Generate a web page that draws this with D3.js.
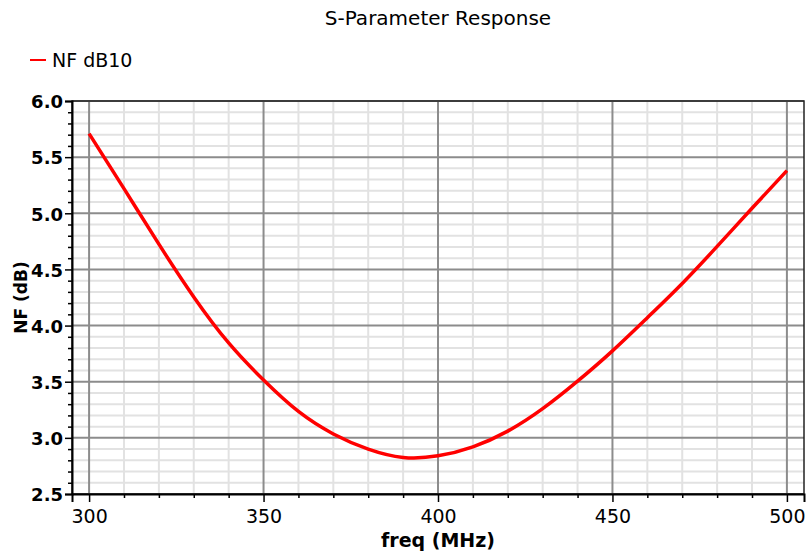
<!DOCTYPE html>
<html>
<head>
<meta charset="utf-8">
<script src="https://cdn.jsdelivr.net/npm/d3@7"></script>
<style>
  body { margin: 0; background: #fff; }
  svg text { font-family: "DejaVu Sans", sans-serif; fill: #000; }
</style>
</head>
<body>
<div id="chart"></div>
<script>
// NF dB10 values, every 10 MHz
const freqs = [300, 310, 320, 330, 340, 350, 360, 370, 380, 390, 400, 410, 420, 430, 440, 450, 460, 470, 480, 490, 500];
const nf = [5.71, 5.22, 4.725, 4.255, 3.845, 3.515, 3.235, 3.035, 2.9, 2.826, 2.84,
  2.92, 3.06, 3.26, 3.505, 3.775, 4.07, 4.375, 4.705, 5.045, 5.38];
const xTicks = [300, 350, 400, 450, 500];
const yTicks = [2.5, 3.0, 3.5, 4.0, 4.5, 5.0, 5.5, 6.0];
const title = "S-Parameter Response";
const seriesName = "NF dB10";

const W = 808, H = 552;
const margin = { top: 101, right: 4, bottom: 58, left: 72 };
const width = W - margin.left - margin.right;
const height = H - margin.top - margin.bottom;

const svg = d3.select("#chart").append("svg")
  .attr("width", W)
  .attr("height", H);

const x = d3.scaleLinear().domain([295.1, 504.9]).range([0, width]);
const y = d3.scaleLinear().domain([2.5, 6.0]).range([height, 0]);

const g = svg.append("g")
  .attr("transform", "translate(" + margin.left + "," + margin.top + ")");

// minor grid
const xMinor = d3.range(300, 501, 10);
const yMinor = d3.range(25, 61, 1).map(d => d / 10);

g.append("g").selectAll("line")
  .data(xMinor.filter(d => d % 50 != 0))
  .enter().append("line")
  .attr("x1", d => x(d)).attr("x2", d => x(d))
  .attr("y1", 0).attr("y2", height)
  .attr("stroke", "#e2e2e2").attr("stroke-width", 2);

g.append("g").selectAll("line")
  .data(yMinor.filter(d => Math.round(d * 10) % 5 != 0))
  .enter().append("line")
  .attr("x1", 0).attr("x2", width)
  .attr("y1", d => y(d)).attr("y2", d => y(d))
  .attr("stroke", "#e2e2e2").attr("stroke-width", 2);

// major grid
g.append("g").selectAll("line")
  .data(xTicks)
  .enter().append("line")
  .attr("x1", d => x(d)).attr("x2", d => x(d))
  .attr("y1", 0).attr("y2", height)
  .attr("stroke", "#8c8c8c").attr("stroke-width", 2);

g.append("g").selectAll("line")
  .data(yTicks)
  .enter().append("line")
  .attr("x1", 0).attr("x2", width)
  .attr("y1", d => y(d)).attr("y2", d => y(d))
  .attr("stroke", "#8c8c8c").attr("stroke-width", 2);

// frame
g.append("rect")
  .attr("width", width).attr("height", height)
  .attr("fill", "none").attr("stroke", "#222").attr("stroke-width", 1.5);

// axes
const xAxis = g.append("g")
  .attr("transform", "translate(0," + height + ")")
  .call(d3.axisBottom(x).tickValues(xTicks).tickSize(8).tickPadding(8).tickFormat(d3.format("d")));
g.append("g")
  .attr("transform", "translate(0," + height + ")")
  .call(d3.axisBottom(x).tickValues(xMinor.filter(d => d % 50 != 0)).tickSize(4).tickFormat(""))
  .call(a => a.select(".domain").remove());

const yAxis = g.append("g")
  .call(d3.axisLeft(y).tickValues(yTicks).tickSize(7).tickPadding(2).tickFormat(d3.format(".1f")));
g.append("g")
  .call(d3.axisLeft(y).tickValues(yMinor.filter(d => Math.round(d * 10) % 5 != 0)).tickSize(4).tickFormat(""))
  .call(a => a.select(".domain").remove());

[xAxis, yAxis].forEach(a => {
  a.select(".domain").attr("stroke", "#000").attr("stroke-width", 2);
  a.selectAll("text").attr("font-family", "DejaVu Sans");
});
xAxis.selectAll("text").attr("font-size", 19);
yAxis.selectAll("text").attr("font-size", 18).attr("font-weight", "bold").attr("dy", "0.38em");
g.selectAll(".tick line").attr("stroke", "#000").attr("stroke-width", 1.5);

// curve
const line = d3.line()
  .x((d, i) => x(freqs[i]))
  .y(d => y(d))
  .curve(d3.curveNatural);

g.append("path")
  .datum(nf)
  .attr("fill", "none")
  .attr("stroke", "#ff0000")
  .attr("stroke-width", 3.5)
  .attr("d", line);

// title
svg.append("text")
  .attr("x", margin.left + width / 2).attr("y", 25)
  .attr("text-anchor", "middle")
  .attr("font-size", 20)
  .text(title);

// legend
svg.append("line")
  .attr("x1", 30).attr("x2", 46).attr("y1", 60).attr("y2", 60)
  .attr("stroke", "#ff0000").attr("stroke-width", 2);
svg.append("text")
  .attr("x", 52).attr("y", 67)
  .attr("font-size", 19)
  .text(seriesName);

// axis labels
svg.append("text")
  .attr("x", margin.left + width / 2).attr("y", 547)
  .attr("text-anchor", "middle")
  .attr("font-size", 19).attr("font-weight", "bold")
  .text("freq (MHz)");

svg.append("text")
  .attr("transform", "translate(27," + (margin.top + height / 2) + ") rotate(-90)")
  .attr("text-anchor", "middle")
  .attr("font-size", 17).attr("font-weight", "bold")
  .text("NF (dB)");
</script>
</body>
</html>
